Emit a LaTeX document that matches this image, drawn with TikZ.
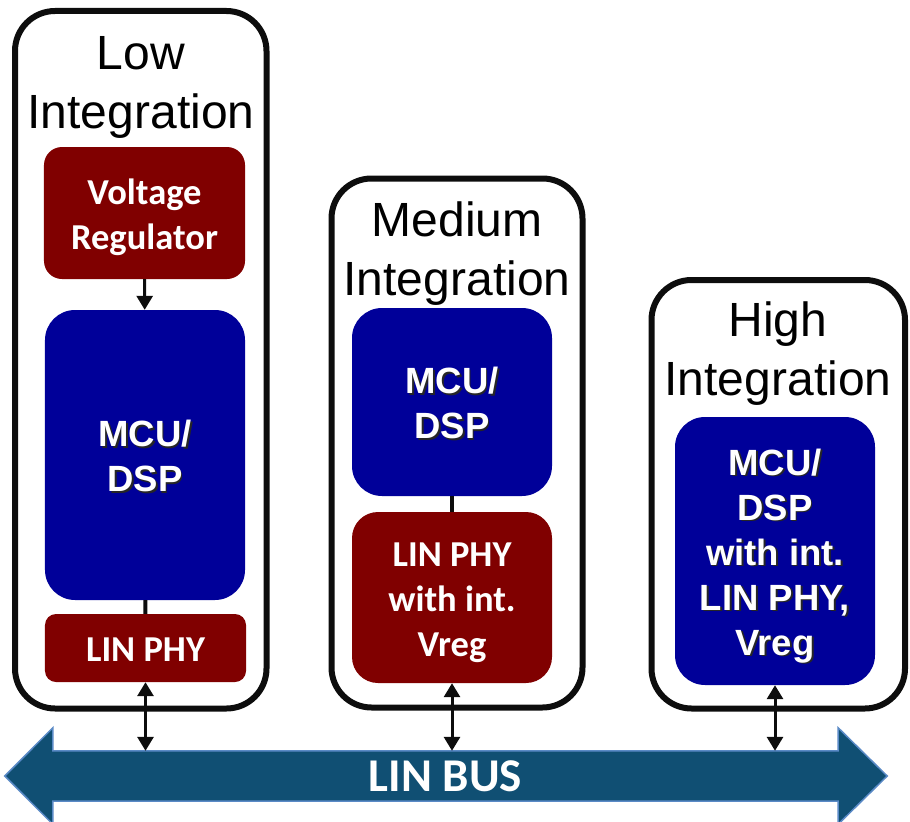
\documentclass[tikz,border=0pt]{standalone}
\usepackage{fontspec}
\setmainfont{Liberation Sans}
\newfontfamily\calibri{Carlito}
\usetikzlibrary{arrows.meta,backgrounds}

\definecolor{phyred}{RGB}{128,0,0}
\definecolor{mcublue}{RGB}{0,0,153}
\definecolor{busfill}{RGB}{16,79,115}
\definecolor{busedge}{RGB}{90,138,198}

% white text with a dark drop shadow
\newcommand{\shadowed}[1]{\rlap{\hspace{1.8bp}\raisebox{-1.8bp}{\color{black!85}#1}}#1}

\begin{document}
\begin{tikzpicture}[x=1bp, y=-1bp, >={Triangle[width=16bp, length=14bp]},
    stage/.style={draw=black!95, line width=6bp, rounded corners=40bp},
    title/.style={font=\fontsize{48bp}{59bp}\selectfont, align=center, inner sep=0pt, anchor=north},
    % #1 = 行数
    redblk/.style={fill=phyred, text=white, align=center, inner sep=0pt, minimum width=201bp,
        font=\calibri\bfseries\fontsize{36.5bp}{45bp}\selectfont,
        text height={(#1-1)*45bp+27.5bp}, text depth=0pt},
    blueblk/.style={fill=mcublue, text=white, align=center, inner sep=0pt, minimum width=200bp,
        rounded corners=30bp, font=\bfseries\fontsize{36.5bp}{45bp}\selectfont,
        text height={(#1-1)*45bp+28bp}, text depth=0pt},
    link/.style={line width=3bp, black!95}]

    % --- 画布大小 ---
    \useasboundingbox (0,0) rectangle (910,822);

    % --- 三个外框 ---
    \draw[stage] (15,11) rectangle (266.5,708.5);
    \draw[stage] (331.5,178.5) rectangle (582.5,707.5);
    \draw[stage] (651.5,280) rectangle (905,708.5);

    % --- 标题 ---
    \node[title] (lowT) at (141,36) {Low\\Integration};
    \node[title] (medT) at (457,202) {Medium\\Integration};
    \node[title] (highT) at (778,302) {High\\Integration};

    % --- Low Integration ---
    \node[redblk=2, minimum height=132bp, rounded corners=18bp] (vregL) at (144.5,213) {Voltage\\Regulator};
    \node[blueblk=2, minimum height=290bp] (mcuL) at (145,455) {\shadowed{MCU/}\\\shadowed{DSP}};
    \node[redblk=1, minimum height=68bp, rounded corners=11bp] (phyL) at (145.5,648) {LIN PHY};

    % --- Medium Integration ---
    \node[blueblk=2, minimum height=188bp] (mcuM) at (452,402) {\shadowed{MCU/}\\\shadowed{DSP}};
    \node[redblk=3, minimum width=200bp, minimum height=171bp, rounded corners=26bp] (phyM) at (452,597.5)
        {LIN PHY\\with int.\\Vreg};

    % --- High Integration ---
    \node[blueblk=5, minimum height=268bp] (mcuH) at (775,551)
        {\shadowed{MCU/}\\\shadowed{DSP}\\\shadowed{with int.}\\\shadowed{LIN PHY,}\\\shadowed{Vreg}};

    % --- LIN 总线 ---
    \node[minimum width=785bp, minimum height=50bp, inner sep=0pt, text=white,
        font=\calibri\bfseries\fontsize{47bp}{50bp}\selectfont] (bus) at (445.5,776) {LIN BUS};
    \begin{scope}[on background layer]
        \filldraw[fill=busfill, draw=busedge, line width=1.5bp]
            (bus.north west) -- (bus.north east) -- ([yshift=23bp]bus.north east)
            -- ([xshift=49bp]bus.east) -- ([yshift=-23bp]bus.south east)
            -- (bus.south east) -- (bus.south west) -- ([yshift=-23bp]bus.south west)
            -- ([xshift=-48bp]bus.west) -- ([yshift=23bp]bus.north west) -- cycle;
    \end{scope}

    % --- 连接线 ---
    \draw[link, ->] (vregL) -- (mcuL);
    \draw[line width=4bp, black!95] (mcuL) -- (phyL);
    \draw[line width=4bp, black!95] (mcuM) -- (phyM);
    \draw[link, <->] (phyL) -- (phyL |- bus.north);
    \draw[link, <->] (phyM) -- (phyM |- bus.north);
    \draw[link, <->] (mcuH) -- (mcuH |- bus.north);

\end{tikzpicture}
\end{document}
